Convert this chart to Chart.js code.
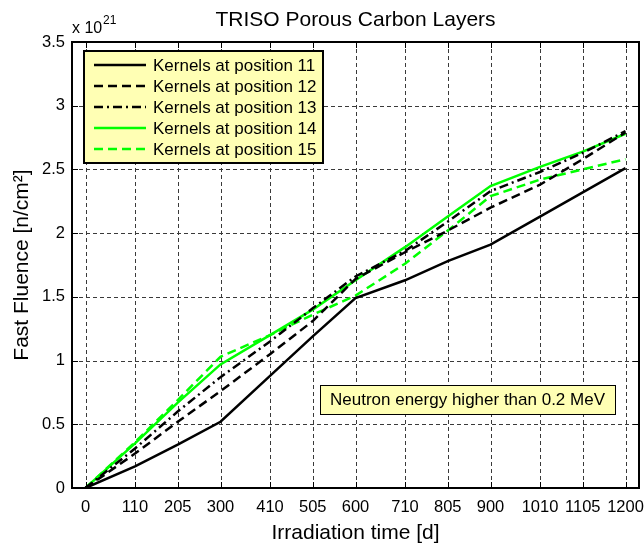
<!DOCTYPE html>
<html>
<head>
<meta charset="utf-8">
<script src="https://cdn.jsdelivr.net/npm/chart.js@4.4.1/dist/chart.umd.min.js"></script>
<style>
  html, body { margin: 0; padding: 0; background: #ffffff; }
  #wrap { width: 644px; height: 547px; position: relative; }
</style>
</head>
<body>
<div id="wrap"><canvas id="c" width="644" height="547"></canvas></div>
<script>
// ---- data ----
const xTicks = [0, 110, 205, 300, 410, 505, 600, 710, 805, 900, 1010, 1105, 1200];
const days   = [0, 110, 205, 300, 410, 505, 600, 710, 805, 900, 1010, 1105, 1200];
const yTicks = [0, 0.5, 1, 1.5, 2, 2.5, 3, 3.5];
const seriesNames = ['Kernels at position 11', 'Kernels at position 12', 'Kernels at position 13',
                     'Kernels at position 14', 'Kernels at position 15'];
const pos11 = [0, 0.17, 0.34, 0.52, 0.88, 1.19, 1.49, 1.63, 1.78, 1.91, 2.13, 2.32, 2.51];
const pos12 = [0, 0.27, 0.52, 0.76, 1.05, 1.31, 1.64, 1.85, 2.02, 2.20, 2.38, 2.58, 2.79];
const pos13 = [0, 0.31, 0.60, 0.87, 1.15, 1.41, 1.66, 1.86, 2.09, 2.33, 2.48, 2.63, 2.80];
const pos14 = [0, 0.35, 0.67, 0.97, 1.20, 1.40, 1.63, 1.89, 2.13, 2.37, 2.52, 2.64, 2.78];
const pos15 = [0, 0.36, 0.69, 1.03, 1.20, 1.36, 1.51, 1.76, 2.02, 2.29, 2.42, 2.50, 2.58];
const titleText = 'TRISO Porous Carbon Layers';
const xTitle = 'Irradiation time [d]';
const yTitle = 'Fast Fluence [n/cm²]';
const noteText = 'Neutron energy higher than 0.2 MeV';

const FONT = '"Liberation Sans", Arial, Helvetica, sans-serif';
const toPts = arr => days.map((d, i) => ({ x: d, y: arr[i] }));

const styles = [
  { color: '#000000', dash: [] },
  { color: '#000000', dash: [9, 5] },
  { color: '#000000', dash: [9, 4, 2, 4] },
  { color: '#00ff00', dash: [] },
  { color: '#00ff00', dash: [9, 5] }
];
const allSeries = [pos11, pos12, pos13, pos14, pos15];

const datasets = allSeries.map((s, i) => ({
  label: seriesNames[i],
  data: toPts(s),
  borderColor: styles[i].color,
  backgroundColor: styles[i].color,
  borderDash: styles[i].dash,
  borderWidth: 2.5,
  pointRadius: 0,
  tension: 0,
  fill: false
}));

const decor = {
  id: 'decor',
  beforeDatasetsDraw(chart) {
    const { ctx, chartArea: a, scales: { x, y } } = chart;
    ctx.save();
    ctx.strokeStyle = '#3a3a3a';
    ctx.lineWidth = 1;
    ctx.setLineDash([4, 3]);
    xTicks.forEach(v => {
      const px = Math.round(x.getPixelForValue(v)) + 0.5;
      ctx.beginPath(); ctx.moveTo(px, a.top); ctx.lineTo(px, a.bottom); ctx.stroke();
    });
    yTicks.forEach(v => {
      const py = Math.round(y.getPixelForValue(v)) + 0.5;
      ctx.beginPath(); ctx.moveTo(a.left, py); ctx.lineTo(a.right, py); ctx.stroke();
    });
    ctx.restore();
  },
  afterDatasetsDraw(chart) {
    const { ctx, chartArea: a, scales: { x, y } } = chart;
    ctx.save();
    // inward tick marks
    ctx.strokeStyle = '#000';
    ctx.lineWidth = 1;
    ctx.setLineDash([]);
    xTicks.forEach(v => {
      const px = Math.round(x.getPixelForValue(v)) + 0.5;
      ctx.beginPath(); ctx.moveTo(px, a.bottom); ctx.lineTo(px, a.bottom - 6); ctx.stroke();
      ctx.beginPath(); ctx.moveTo(px, a.top); ctx.lineTo(px, a.top + 6); ctx.stroke();
    });
    yTicks.forEach(v => {
      const py = Math.round(y.getPixelForValue(v)) + 0.5;
      ctx.beginPath(); ctx.moveTo(a.left, py); ctx.lineTo(a.left + 6, py); ctx.stroke();
      ctx.beginPath(); ctx.moveTo(a.right, py); ctx.lineTo(a.right - 6, py); ctx.stroke();
    });
    // frame
    ctx.lineWidth = 2;
    ctx.strokeRect(a.left, a.top, a.right - a.left, a.bottom - a.top);

    // legend box
    const lx0 = 84, ly0 = 51, lx1 = 323, ly1 = 163;
    ctx.fillStyle = '#ffffb4';
    ctx.fillRect(lx0, ly0, lx1 - lx0, ly1 - ly0);
    ctx.lineWidth = 2;
    ctx.strokeStyle = '#000';
    ctx.strokeRect(lx0, ly0, lx1 - lx0, ly1 - ly0);
    ctx.font = '17px ' + FONT;
    ctx.textBaseline = 'middle';
    ctx.textAlign = 'left';
    chart.data.datasets.forEach((ds, i) => {
      const ry = 65 + i * 21;
      ctx.strokeStyle = ds.borderColor;
      ctx.lineWidth = 2.5;
      ctx.setLineDash(ds.borderDash || []);
      ctx.beginPath(); ctx.moveTo(94, ry); ctx.lineTo(146, ry); ctx.stroke();
      ctx.setLineDash([]);
      ctx.fillStyle = '#000';
      ctx.fillText(ds.label, 153, ry + 1);
    });

    // annotation box
    const ax0 = 320, ay0 = 385, ax1 = 615, ay1 = 414;
    ctx.fillStyle = '#ffffb4';
    ctx.fillRect(ax0, ay0, ax1 - ax0, ay1 - ay0);
    ctx.lineWidth = 1;
    ctx.strokeStyle = '#000';
    ctx.strokeRect(ax0 + 0.5, ay0 + 0.5, ax1 - ax0, ay1 - ay0);
    ctx.fillStyle = '#000';
    ctx.textAlign = 'center';
    ctx.fillText(noteText, (ax0 + ax1) / 2, (ay0 + ay1) / 2 + 1);

    // title and exponent
    ctx.font = '21px ' + FONT;
    ctx.textAlign = 'center';
    ctx.fillText(titleText, (a.left + a.right) / 2, 20);
    ctx.textAlign = 'left';
    ctx.font = '16px ' + FONT;
    ctx.fillText('x 10', 72, 29);
    ctx.font = '12px ' + FONT;
    ctx.fillText('21', 103, 21);
    ctx.restore();
  }
};

new Chart(document.getElementById('c'), {
  type: 'line',
  data: { datasets },
  plugins: [decor],
  options: {
    responsive: false,
    animation: false,
    events: [],
    layout: { padding: { left: 0, top: 42, right: 5, bottom: 0 } },
    plugins: { legend: { display: false }, tooltip: { enabled: false }, title: { display: false } },
    scales: {
      x: {
        type: 'linear',
        min: -30, max: 1230,
        afterBuildTicks: s => { s.ticks = xTicks.map(v => ({ value: v })); },
        afterFit: s => { s.height = 59; s.paddingLeft = 0; s.paddingRight = 0; },
        grid: { display: false, drawTicks: false },
        border: { display: false },
        ticks: {
          autoSkip: false, maxRotation: 0, minRotation: 0, padding: 10,
          color: '#000', font: { size: 16.5, family: FONT },
          callback: v => String(v)
        },
        title: { display: true, text: xTitle, color: '#000', font: { size: 21, family: FONT }, padding: { top: 0, bottom: 1 } }
      },
      y: {
        min: 0, max: 3.5,
        afterBuildTicks: s => { s.ticks = yTicks.map(v => ({ value: v })); },
        afterFit: s => { s.width = 72; s.paddingTop = 0; s.paddingBottom = 0; },
        grid: { display: false, drawTicks: false },
        border: { display: false },
        ticks: {
          padding: 7, color: '#000', font: { size: 16.5, family: FONT },
          callback: v => String(v)
        },
        title: { display: true, text: yTitle, color: '#000', font: { size: 21, family: FONT }, padding: { top: 10, bottom: 0 } }
      }
    }
  }
});
</script>
</body>
</html>
